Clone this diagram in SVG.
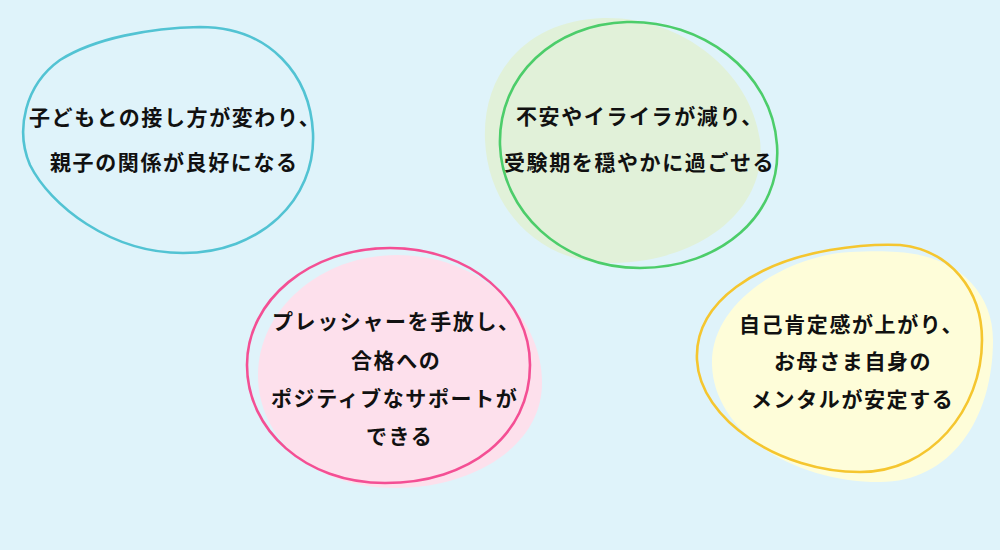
<svg xmlns="http://www.w3.org/2000/svg" width="1000" height="550" viewBox="0 0 1000 550">
<style>
.t{font-family:"Noto Sans CJK JP","Noto Sans CJK SC",sans-serif;font-weight:bold;font-size:21px;letter-spacing:1.6px;fill:#111}
.ol{fill:none;stroke-width:2.6}
</style>
<rect width="1000" height="550" fill="#dff3fa"/>
<g id="node-blue">
<path class="ol" stroke="#52c3d3" d="M 200,27 C 270,27 310,75 313,133 C 316,200 260,253 183,253 C 110,253 50,205 30,165 C 15,130 25,85 60,60 C 95,38 150,28 200,27 Z"/>
<text class="t" x="29" y="125">子どもとの接し方が変わり、</text>
<text class="t" x="50" y="170">親子の関係が良好になる</text>
</g>
<g id="node-green">
<path fill="#e1f1d9" d="M 603,18 C 680,16 750,70 760,140 C 768,210 700,262 613,263 C 540,264 488,210 485,140 C 482,70 530,20 603,18 Z"/>
<path class="ol" stroke="#4ccd6a" d="M 627,22 C 700,20 772,70 777,145 C 782,215 720,268 640,268 C 560,268 502,210 500,145 C 498,75 555,24 627,22 Z"/>
<text class="t" x="516" y="124">不安やイライラが減り、</text>
<text class="t" x="504" y="170">受験期を穏やかに過ごせる</text>
</g>
<g id="node-pink">
<path fill="#fde0ec" d="M 397,255 C 480,255 542,315 542,383 C 542,445 475,488 395,488 C 315,488 258,440 258,375 C 258,310 320,255 397,255 Z"/>
<path class="ol" stroke="#f44f94" d="M 390,248 C 470,248 530,300 530,365 C 530,435 470,483 385,483 C 305,483 247,430 247,365 C 247,300 310,248 390,248 Z"/>
<text class="t" x="272" y="329">プレッシャーを手放し、</text>
<text class="t" x="351" y="368">合格への</text>
<text class="t" x="271" y="406">ポジティブなサポートが</text>
<text class="t" x="366" y="444">できる</text>
</g>
<g id="node-yellow">
<path fill="#fefdd9" d="M 897,252 C 955,255 993,290 993,340 C 993,420 950,482 880,482 C 790,482 714,430 712,365 C 710,300 790,255 850,252 C 870,251 885,251 897,252 Z"/>
<path class="ol" stroke="#f5c62f" d="M 900,245 C 950,250 982,290 982,340 C 982,410 930,472 860,472 C 780,472 700,420 697,360 C 694,300 760,262 830,250 C 860,245 880,244 900,245 Z"/>
<text class="t" x="739" y="332">自己肯定感が上がり、</text>
<text class="t" x="774" y="369">お母さま自身の</text>
<text class="t" x="751" y="407">メンタルが安定する</text>
</g>
<g id="connectors"/>
</svg>
